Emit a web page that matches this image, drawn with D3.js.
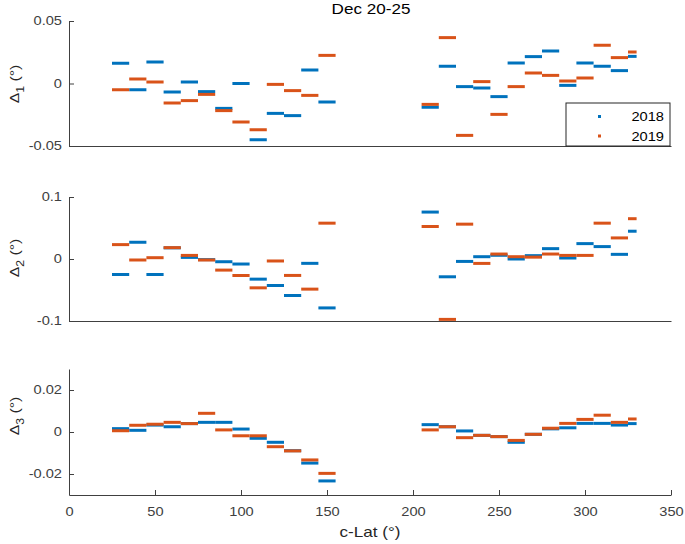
<!DOCTYPE html>
<html><head><meta charset="utf-8">
<script src="https://cdn.jsdelivr.net/npm/d3@7"></script>
<style>body{margin:0;background:#fff}svg{display:block}text{font-family:"Liberation Sans",Arial,sans-serif}</style>
</head><body><svg id="c" width="685" height="544"></svg>
<script>
const title = "Dec 20-25";
const years = ["2018", "2019"];
const latLeft  = [25,35,45,55,65,75,85,95,105,115,125,135,145, 205,215,225,235,245,255,265,275,285,295,305,315,325];
const latRight = [35,45,55,65,75,85,95,105,115,125,135,145,155, 215,225,235,245,255,265,275,285,295,305,315,325,330];
const d1_2018 = [0.0162,-0.005,0.0172,-0.0068,0.0012,-0.0065,-0.0199,0.0,-0.045,-0.0239,-0.0257,0.0108,-0.0148,
                 -0.019,0.0138,-0.0025,-0.0036,-0.0105,0.0164,0.0215,0.026,-0.0015,0.0164,0.0138,0.0103,0.0217];
const d1_2019 = [-0.005,0.0036,0.0012,-0.0156,-0.0137,-0.0087,-0.0217,-0.0308,-0.037,-0.0007,-0.0057,-0.0095,0.0225,
                 -0.0167,0.0367,-0.0415,0.0015,-0.0247,-0.0025,0.0084,0.0065,0.002,0.0044,0.0306,0.0207,0.0252];
const d2_2018 = [-0.025,0.027,-0.025,0.018,0.0026,-0.001,-0.0044,-0.0081,-0.0325,-0.0427,-0.0589,-0.007,-0.0789,
                 0.0757,-0.0287,-0.0039,0.0037,0.006,0.0,0.0054,0.0167,0.0016,0.0248,0.02,0.0075,0.0448];
const d2_2019 = [0.0232,-0.0016,0.0021,0.0183,0.0058,-0.0016,-0.0179,-0.0266,-0.0465,-0.0032,-0.0265,-0.0486,0.0578,
                 0.0524,-0.0974,0.0562,-0.0071,0.008,0.0037,0.003,0.008,0.0058,0.0058,0.0578,0.034,0.065];
const d3_2018 = [0.0016,0.0008,0.0033,0.0025,0.004,0.0046,0.0046,0.0014,-0.003,-0.0049,-0.0089,-0.0148,-0.0233,
                 0.0035,0.0025,0.0005,-0.0016,-0.0022,-0.0049,-0.0011,0.0015,0.002,0.0041,0.0041,0.0033,0.004];
const d3_2019 = [0.0006,0.0032,0.0037,0.0046,0.004,0.0089,0.001,-0.0018,-0.0018,-0.007,-0.009,-0.0133,-0.0197,
                 0.001,0.0025,-0.0027,-0.0016,-0.0022,-0.004,-0.0011,0.0018,0.0041,0.006,0.008,0.0046,0.0062];
const yDomains = [[-0.05,0.05],[-0.1,0.1],[-0.03,0.03]];
const yTicks = [[-0.05,0,0.05],[-0.1,0,0.1],[-0.02,0,0.02]];
const xTicks = [0,50,100,150,200,250,300,350];
const subs = ["1","2","3"];

const S = 1.22; // horizontal text widening to mimic the original font metrics
const colors = ["#0072BD","#D95319"];
const svg = d3.select("#c");
svg.append("rect").attr("width",685).attr("height",544).attr("fill","#fff");
const x = d3.scaleLinear().domain([0,350]).range([69,671]);
const panels = [
  {top:21, bot:146, data:[d1_2018,d1_2019], labelY:84},
  {top:197, bot:321, data:[d2_2018,d2_2019], labelY:258},
  {top:369, bot:495, data:[d3_2018,d3_2019], labelY:416}
];
const axisColor = "#404040";
function widen(sel){
  sel.each(function(){
    const t = d3.select(this);
    const xv = +t.attr("x") || 0;
    t.attr("x", xv/S).attr("transform", `scale(${S},1)`);
  });
}
function label(px, py, str, size, color, rot){
  const g = svg.append("g").attr("transform", `translate(${px},${py})` + (rot ? ` rotate(${rot})` : ""));
  return g.append("text").attr("transform", `scale(${S},1)`).attr("text-anchor","middle")
    .attr("font-size", size).attr("fill", color).text(str);
}
panels.forEach((p,i)=>{
  const y = d3.scaleLinear().domain(yDomains[i]).range([p.bot,p.top]);
  const g = svg.append("g");
  const ya = g.append("g").attr("transform",`translate(${x(0)},0)`)
    .call(d3.axisLeft(y).tickValues(yTicks[i]).tickFormat(d=>d===0?"0":String(d)).tickSizeInner(-5).tickSizeOuter(0).tickPadding(7));
  ya.select(".domain").attr("stroke",axisColor);
  ya.selectAll(".tick line").attr("stroke",axisColor);
  ya.selectAll("text").attr("fill","#404040").attr("font-size",12).attr("font-family",'"Liberation Sans",Arial,sans-serif');
  widen(ya.selectAll("text"));
  const xa = g.append("g").attr("transform",`translate(0,${p.bot})`);
  if(i===2){
    xa.call(d3.axisBottom(x).tickValues(xTicks).tickSizeInner(-5).tickSizeOuter(0).tickPadding(12));
    xa.selectAll("text").attr("fill","#404040").attr("font-size",12).attr("font-family",'"Liberation Sans",Arial,sans-serif');
    widen(xa.selectAll("text"));
  } else {
    xa.call(d3.axisBottom(x).tickValues([]).tickSizeOuter(0));
  }
  xa.select(".domain").attr("stroke",axisColor);
  xa.selectAll(".tick line").attr("stroke",axisColor);
  // y label
  const lab = label(19, p.labelY, "", 13, "#262626", -90);
  lab.append("tspan").text("\u0394");
  lab.append("tspan").attr("baseline-shift","sub").attr("font-size",10).text(subs[i]);
  lab.append("tspan").text(" (\u00B0)");
  p.data.forEach((arr,k)=>{
    g.append("g").selectAll("line").data(arr).join("line")
      .attr("x1",(d,j)=>x(latLeft[j])).attr("x2",(d,j)=>x(latRight[j]))
      .attr("y1",d=>y(d)).attr("y2",d=>y(d))
      .attr("stroke",colors[k]).attr("stroke-width",3);
  });
});
label(371, 14, title, 14, "#000");
label(370, 537, "c-Lat (\u00B0)", 14, "#262626");
const lg = svg.append("g");
lg.append("rect").attr("x",566).attr("y",103).attr("width",104).attr("height",43)
  .attr("fill","#fff").attr("stroke","#262626").attr("stroke-width",1);
years.forEach((yr,k)=>{
  const cy = 116.5 + k*19.5;
  lg.append("rect").attr("x",598).attr("y",cy-1.5).attr("width",3).attr("height",3).attr("fill",colors[k]);
  const gg = lg.append("g").attr("transform",`translate(664,${cy+4.5})`);
  gg.append("text").attr("transform",`scale(${S},1)`).attr("text-anchor","end")
    .attr("font-size",12).attr("fill","#000").text(yr);
});
</script></body></html>
